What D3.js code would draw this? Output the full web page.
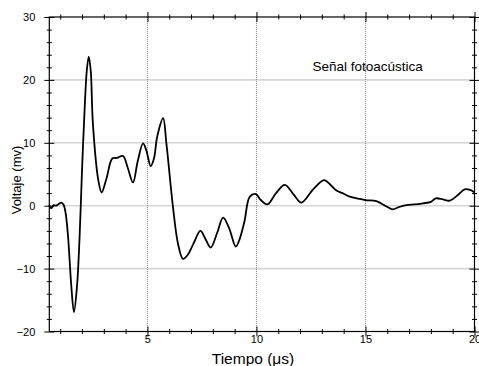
<!DOCTYPE html>
<meta charset="utf-8">
<style>
	body { margin: 0; background: #fff; }
	text { font-family: Arial, "Liberation Sans", sans-serif; fill: #000; }
	.grid-h line { stroke: #d6d6d6; stroke-width: 1.6; }
	.grid-v line { stroke: #8a8a8a; stroke-width: 1; stroke-dasharray: 1,1; }
</style>
<script src="https://cdn.jsdelivr.net/npm/d3@7"></script>
<body>
<script>
	// señal: tiempo (µs) y voltaje (mV)
	let tiempo = [0.49, 0.6, 0.7, 0.8, 0.9, 1.05, 1.15, 1.25, 1.36, 1.51, 1.63, 1.77, 1.89, 2.0, 2.09, 2.22, 2.31, 2.4,
		2.5, 2.75, 2.9, 3.12, 3.39, 3.6, 3.88, 4.1, 4.34, 4.55, 4.8, 4.95, 5.15, 5.3, 5.45, 5.72,
		5.87, 6.17, 6.4, 6.63, 6.85, 7.09, 7.43, 7.65, 7.9, 8.2, 8.47, 8.75, 9.05, 9.2, 9.45, 9.69, 9.97,
		10.2, 10.5, 10.9, 11.3, 11.7, 12.06, 12.6, 13.1, 13.4, 13.67, 14.0, 14.28, 14.7, 15.01, 15.5,
		15.9, 16.24, 16.55, 16.88, 17.25, 17.64, 18.0, 18.22, 18.55, 18.87, 19.2, 19.55, 19.8, 20.0];
	let voltaje = [0.1, -0.4, 0.1, 0.0, 0.2, 0.5, 0.2, -1.2, -4.9, -12.8, -16.9, -12.8, -4.9, 5.6, 13, 21.5, 23.7, 21.5,
		13, 4, 2.1, 4.3, 7.5, 7.6, 7.9, 6, 3.7, 7, 9.9, 8.8, 6.3, 7.5, 11, 13.9,
		9.9, -0.15, -6, -8.45, -7.8, -6.2, -4.0, -5.2, -6.65, -4.3, -1.9, -3.6, -6.5, -5.6, -2.5, 1.4, 1.85,
		0.9, 0.2, 2.0, 3.3, 1.8, 0.5, 2.6, 4.07, 3.3, 2.4, 1.9, 1.43, 1.1, 0.9, 0.74,
		0.0, -0.57, -0.2, 0.1, 0.2, 0.38, 0.6, 1.17, 1.0, 0.8, 1.6, 2.6, 2.5, 2.1];

	let xMajor = [5, 10, 15, 20];
	let yMajor = [-20, -10, 0, 10, 20, 30];
	let yGrid = [-10, 0, 10, 20];

	let width = 479, height = 366;
	let mLeft = 49.3, mRight = 474.5, mTop = 17, mBottom = 331.5;

	let svg = d3.select("body").append("svg")
		.attr("width", width)
		.attr("height", height);

	let x = d3.scaleLinear().domain([0.5, 20]).range([mLeft, mRight]);
	let y = d3.scaleLinear().domain([-20, 30]).range([mBottom, mTop]);

	// rejilla
	svg.append("g").attr("class", "grid-h")
		.selectAll("line").data(yGrid).join("line")
		.attr("x1", mLeft).attr("x2", mRight)
		.attr("y1", d => y(d)).attr("y2", d => y(d));

	svg.append("g").attr("class", "grid-v")
		.selectAll("line").data([5, 10, 15]).join("line")
		.attr("x1", d => x(d)).attr("x2", d => x(d))
		.attr("y1", mTop).attr("y2", mBottom);

	// curva
	let linea = d3.line()
		.x((d, i) => x(tiempo[i]))
		.y(d => y(d))
		.curve(d3.curveCatmullRom.alpha(0.5));

	svg.append("path")
		.datum(voltaje)
		.attr("fill", "none")
		.attr("stroke", "#000")
		.attr("stroke-width", 1.8)
		.attr("stroke-linejoin", "round")
		.attr("d", linea);

	// ejes con marcas que cruzan la línea
	function ejeX(pos, labels) {
		let gMaj = d3.axisBottom(x).tickValues(xMajor).tickSize(10).tickFormat(labels ? d3.format("d") : "");
		let gMin = d3.axisBottom(x).tickValues(d3.range(1, 20).filter(d => d % 5)).tickSize(5).tickFormat("");
		svg.append("g").attr("transform", `translate(0,${pos - 5})`).call(gMaj)
			.call(g => g.select(".domain").remove())
			.call(g => g.selectAll("text").attr("dy", 0).attr("y", 16.5).attr("font-size", 11).attr("font-family", "Arial, 'Liberation Sans', sans-serif"));
		svg.append("g").attr("transform", `translate(0,${pos - 2.5})`).call(gMin)
			.call(g => g.select(".domain").remove());
	}

	function ejeY(pos, labels) {
		let gMaj = d3.axisRight(y).tickValues(yMajor).tickSize(10).tickFormat(labels ? d3.format("d") : "");
		let gMin = d3.axisRight(y).tickValues(d3.range(-18, 30, 2).filter(d => d % 10)).tickSize(5).tickFormat("");
		svg.append("g").attr("transform", `translate(${pos - 5},0)`).call(gMaj)
			.call(g => g.select(".domain").remove())
			.call(g => g.selectAll("text").attr("x", -9).attr("text-anchor", "end")
				.attr("font-size", 11).attr("font-family", "Arial, 'Liberation Sans', sans-serif"));
		svg.append("g").attr("transform", `translate(${pos - 2.5},0)`).call(gMin)
			.call(g => g.select(".domain").remove());
	}

	ejeX(mBottom, true);
	ejeX(mTop, false);
	ejeY(mLeft, true);
	ejeY(mRight, false);

	svg.append("rect")
		.attr("x", mLeft).attr("y", mTop)
		.attr("width", mRight - mLeft).attr("height", mBottom - mTop)
		.attr("fill", "none").attr("stroke", "#000").attr("stroke-width", 1.2);

	// textos
	svg.append("text")
		.attr("x", 312.5).attr("y", 71)
		.attr("font-size", 13.5)
		.text("Señal fotoacústica");

	svg.append("text")
		.attr("transform", `translate(21,180) rotate(-90)`)
		.attr("text-anchor", "middle")
		.attr("font-size", 13)
		.text("Voltaje (mv)");

	svg.append("text")
		.attr("x", 253).attr("y", 364)
		.attr("text-anchor", "middle")
		.attr("font-size", 15.5)
		.text("Tiempo (μs)");
</script>
</body>
